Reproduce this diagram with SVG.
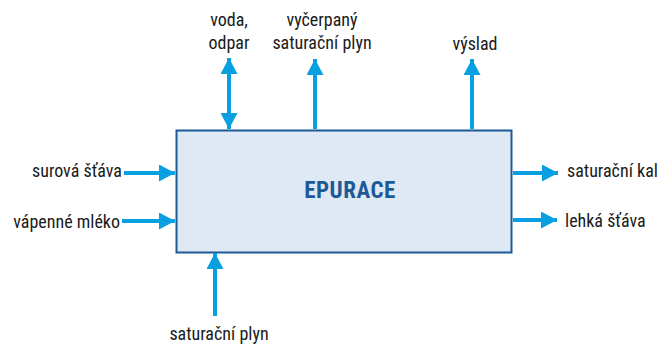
<svg xmlns="http://www.w3.org/2000/svg" width="662" height="347" viewBox="0 0 662 347">
  <style>
    .lbl { font-family: "Liberation Sans Narrow", "Roboto Condensed", "DejaVu Sans Condensed", sans-serif; font-size: 18px; fill: #1a1a1a; }
    .title { font-family: "Liberation Sans Narrow", "Roboto Condensed", "DejaVu Sans Condensed", sans-serif; font-size: 23px; font-weight: bold; letter-spacing: 0.5px; fill: #1c5a96; }
    .flow { stroke: #08a0e0; stroke-width: 4; fill: none; }
  </style>
  <defs>
    <marker id="head" viewBox="0 0 16 17" refX="16" refY="8.5" markerWidth="16" markerHeight="17" markerUnits="userSpaceOnUse" orient="auto-start-reverse">
      <path d="M0,0 L16,8.5 L0,17 Z" fill="#08a0e0"/>
    </marker>
  </defs>

  <g id="epurace">
    <rect x="176.5" y="130.5" width="335" height="122" fill="#dfe8f5" stroke="#1c5a96" stroke-width="2"/>
    <text class="title" x="350" y="198" text-anchor="middle">EPURACE</text>
  </g>

  <g id="connectors">
    <line class="flow" x1="229" y1="58" x2="229" y2="129" marker-start="url(#head)" marker-end="url(#head)"/>
    <line class="flow" x1="315" y1="129" x2="315" y2="59" marker-end="url(#head)"/>
    <line class="flow" x1="472" y1="129" x2="472" y2="59" marker-end="url(#head)"/>
    <line class="flow" x1="124" y1="173" x2="175" y2="173" marker-end="url(#head)"/>
    <line class="flow" x1="122" y1="221" x2="175" y2="221" marker-end="url(#head)"/>
    <line class="flow" x1="513" y1="173" x2="558" y2="173" marker-end="url(#head)"/>
    <line class="flow" x1="513" y1="220" x2="557" y2="220" marker-end="url(#head)"/>
    <line class="flow" x1="215" y1="316" x2="215" y2="253" marker-end="url(#head)"/>
  </g>

  <g id="in-surova">
    <text class="lbl" x="122" y="177" text-anchor="end">surová šťáva</text>
  </g>
  <g id="in-vapenne">
    <text class="lbl" x="120" y="228" text-anchor="end">vápenné mléko</text>
  </g>
  <g id="in-plyn">
    <text class="lbl" x="219" y="340" text-anchor="middle">saturační plyn</text>
  </g>
  <g id="out-voda">
    <text class="lbl" x="229" y="26" text-anchor="middle">voda,</text>
    <text class="lbl" x="229" y="49" text-anchor="middle">odpar</text>
  </g>
  <g id="out-plyn">
    <text class="lbl" x="322" y="26" text-anchor="middle">vyčerpaný</text>
    <text class="lbl" x="322" y="49" text-anchor="middle">saturační plyn</text>
  </g>
  <g id="out-vyslad">
    <text class="lbl" x="475" y="50" text-anchor="middle">výslad</text>
  </g>
  <g id="out-kal">
    <text class="lbl" x="567" y="177">saturační kal</text>
  </g>
  <g id="out-lehka">
    <text class="lbl" x="565" y="227">lehká šťáva</text>
  </g>
</svg>
